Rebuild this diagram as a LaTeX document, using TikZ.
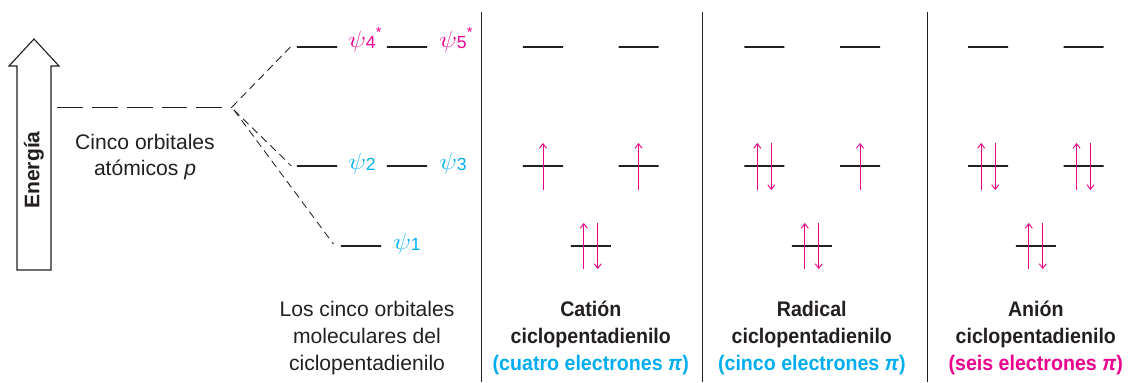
\documentclass[tikz,border=0pt]{standalone}
\usepackage{graphicx}
\usepackage{fontspec}
\setmainfont{Liberation Sans}
\newfontfamily\narrowsf[FakeStretch=0.93]{Liberation Sans}
\usetikzlibrary{calc,arrows.meta}
\definecolor{psicyan}{RGB}{0,174,239}
\definecolor{psimag}{RGB}{236,0,140}
\definecolor{ink}{RGB}{35,31,32}
\newcommand{\orb}[2]{\scalebox{1.3}[1.15]{$\psi$}\raisebox{-1.2pt}{\fontsize{12.5}{14}\selectfont #1}\raisebox{6.5pt}{\fontsize{10.5}{12}\selectfont #2}}

\begin{document}
\begin{tikzpicture}[x=0.025cm,y=-0.025cm,
	every node/.style={text=ink,font=\fontsize{15}{19}\selectfont},
	lvl/.style={draw=ink,line width=0.8pt,inner sep=0pt,minimum height=0pt,minimum width=1cm},
	corr/.style={draw=ink,line width=0.6pt,dash pattern=on 5.5pt off 3.5pt},
	spin/.style={draw=psimag,line width=0.65pt,-{Straight Barb[length=3.2pt,width=5pt]}},
	titulo/.style={align=center,font=\fontsize{15}{19}\narrowsf\bfseries}]
				\useasboundingbox (0,0) rectangle (1146,382);
				% energy axis
				\draw[ink,line width=0.8pt] (17,270) -- (17,66) -- (9,66) -- (34,39) -- (59,66) -- (51,66) -- (51,270) -- cycle;
				\node[rotate=90,font=\fontsize{15}{18}\selectfont\bfseries] (E) at (34,170) {Energía};
				% atomic p orbitals
				\coordinate (P) at (57,107);
				\coordinate (X) at (232,107);
				\draw[draw=ink,line width=0.7pt,dash pattern=on 18.4pt off 6.4pt] (P) -- (X);
				\node[align=center] (Pt) at (145,157) {Cinco orbitales\\atómicos \textit{p}};
				% molecular orbitals
				\node[lvl] (M4) at (317,47) {};
				\node[lvl] (M5) at (407,47) {};
				\node[lvl] (M2) at (317,166) {};
				\node[lvl] (M3) at (407,166) {};
				\node[lvl] (M1) at (361,246) {};
				\draw[corr] (X) -- ($(M4.west)+(-6,0)$);
				\draw[corr] ($(X)+(2,3)$) -- ($(M2.west)+(-5,0)$);
				\draw[corr] ($(X)+(2,3)$) -- ($(M1.west)+(-7,-2)$);
				\node[anchor=base west,text=psimag,inner sep=0pt] (psi4) at (348,47) {\orb{4}{*}};
				\node[anchor=base west,text=psimag,inner sep=0pt] (psi5) at (439,47) {\orb{5}{*}};
				\node[anchor=base west,text=psicyan,inner sep=0pt] (psi2) at (348,169) {\orb{2}{}};
				\node[anchor=base west,text=psicyan,inner sep=0pt] (psi3) at (439,169) {\orb{3}{}};
				\node[anchor=base west,text=psicyan,inner sep=0pt] (psi1) at (393,249) {\orb{1}{}};
				\node[align=center] (Mt) at (367,338) {Los cinco orbitales\\moleculares del\\ciclopentadienilo};
				% separators
				\draw[ink,line width=0.7pt] (481.5,12) -- (481.5,382);
				\draw[ink,line width=0.7pt] (702,12) -- (702,382);
				\draw[ink,line width=0.7pt] (927.5,12) -- (927.5,382);
				% cation
				\node[lvl] (Ca) at (543,47) {};
				\node[lvl] (Cb) at (638.5,47) {};
				\node[lvl] (Cc) at (543,166) {};
				\node[lvl] (Cd) at (638.5,166) {};
				\node[lvl] (Ce) at (590.8,246) {};
				\draw[spin] ($(Cc)+(0,24)$) -- ($(Cc)+(0,-23)$);
				\draw[spin] ($(Cd)+(0,24)$) -- ($(Cd)+(0,-23)$);
				\draw[spin] ($(Ce)+(-7,23)$) -- ($(Ce)+(-7,-23)$);
				\draw[spin] ($(Ce)+(7,-23)$) -- ($(Ce)+(7,23)$);
				\node[titulo] (Ct) at (590.8,338) {Catión\\ciclopentadienilo\\\textcolor{psicyan}{(cuatro electrones \textit{π})}};
				% radical
				\node[lvl] (Ra) at (764.3,47) {};
				\node[lvl] (Rb) at (860,47) {};
				\node[lvl] (Rc) at (764.3,166) {};
				\node[lvl] (Rd) at (860,166) {};
				\node[lvl] (Re) at (811.8,246) {};
				\draw[spin] ($(Rc)+(-7,24)$) -- ($(Rc)+(-7,-23)$);
				\draw[spin] ($(Rc)+(7,-23)$) -- ($(Rc)+(7,24)$);
				\draw[spin] ($(Rd)+(0,24)$) -- ($(Rd)+(0,-23)$);
				\draw[spin] ($(Re)+(-7,23)$) -- ($(Re)+(-7,-23)$);
				\draw[spin] ($(Re)+(7,-23)$) -- ($(Re)+(7,23)$);
				\node[titulo] (Rt) at (811.8,338) {Radical\\ciclopentadienilo\\\textcolor{psicyan}{(cinco electrones \textit{π})}};
				% anion
				\node[lvl] (Aa) at (988.2,47) {};
				\node[lvl] (Ab) at (1083.5,47) {};
				\node[lvl] (Ac) at (988.2,166) {};
				\node[lvl] (Ad) at (1083.5,166) {};
				\node[lvl] (Ae) at (1035.8,246) {};
				\draw[spin] ($(Ac)+(-7,24)$) -- ($(Ac)+(-7,-23)$);
				\draw[spin] ($(Ac)+(7,-23)$) -- ($(Ac)+(7,24)$);
				\draw[spin] ($(Ad)+(-7,24)$) -- ($(Ad)+(-7,-23)$);
				\draw[spin] ($(Ad)+(7,-23)$) -- ($(Ad)+(7,24)$);
				\draw[spin] ($(Ae)+(-7,23)$) -- ($(Ae)+(-7,-23)$);
				\draw[spin] ($(Ae)+(7,-23)$) -- ($(Ae)+(7,23)$);
				\node[titulo] (At) at (1035.8,338) {Anión\\ciclopentadienilo\\\textcolor{psimag}{(seis electrones \textit{π})}};
			\end{tikzpicture}
\end{document}
